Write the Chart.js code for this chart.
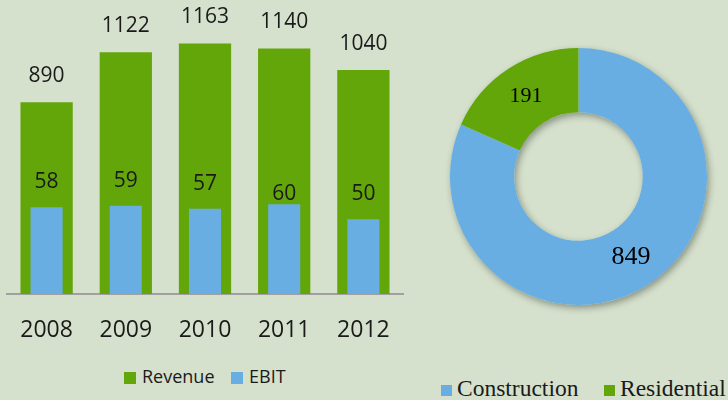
<!DOCTYPE html>
<html>
<head>
<meta charset="utf-8">
<script src="https://cdn.jsdelivr.net/npm/chart.js@4/dist/chart.umd.min.js"></script>
<style>
  body {
    margin: 0;
    width: 728px;
    height: 400px;
    overflow: hidden;
    position: relative;
    background: #d5e1cc;
    color: #1a1a1a;
  }
  #bar-wrap { position: absolute; left: 0; top: 0; width: 410px; height: 350px; }
  #pie-wrap { position: absolute; left: 440px; top: 38px; width: 277px; height: 277px; }
  .box { position: absolute; width: 12px; height: 12px; }
  .txt { position: absolute; white-space: nowrap; }
  .sans { font-family: "Open Sans", sans-serif; font-size: 18px; line-height: 18px; }
  .serif { font-family: "Liberation Serif", serif; font-size: 23.5px; line-height: 23.5px; }
</style>
</head>
<body>
<div id="bar-wrap"><canvas id="bar-chart"></canvas></div>
<div id="pie-wrap"><canvas id="pie-chart"></canvas></div>

<!-- legends -->
<div class="box" style="left:124px;top:372px;background:#62a60a"></div>
<div class="txt sans" style="left:142px;top:367px">Revenue</div>
<div class="box" style="left:231px;top:372px;background:#68aee3"></div>
<div class="txt sans" style="left:249px;top:367px">EBIT</div>

<div class="box" style="left:441px;top:385px;width:11px;height:11px;background:#68aee3"></div>
<div class="txt serif" style="left:457px;top:377px">Construction</div>
<div class="box" style="left:604px;top:385px;width:11px;height:11px;background:#62a60a"></div>
<div class="txt serif" style="left:620px;top:377px">Residential</div>

<script>
const GREEN = "#62a60a";
const BLUE = "#68aee3";
const INK = "#1a1a1a";

// bar chart data
const years = ["2008", "2009", "2010", "2011", "2012"];
const revenue = [890, 1122, 1163, 1140, 1040];
const ebit = [58, 59, 57, 60, 50];

// doughnut data
const segments = ["Construction", "Residential"];
const segmentValues = [849, 191];

// how far each label floats above its bar (the 60 sits lower in the original)
const revenueLift = [26, 26, 26, 26, 26];
const ebitLift = [25, 25, 25, 10, 25];

const barLabels = {
  id: "barLabels",
  afterDatasetsDraw(chart) {
    const ctx = chart.ctx;
    ctx.save();
    ctx.fillStyle = INK;
    ctx.textAlign = "center";
    ctx.textBaseline = "middle";
    ctx.font = "21px 'Open Sans'";
    chart.getDatasetMeta(0).data.forEach((bar, i) => {
      ctx.fillText(revenue[i], bar.x, bar.y - revenueLift[i]);
    });
    chart.getDatasetMeta(1).data.forEach((bar, i) => {
      ctx.fillText(ebit[i], bar.x, bar.y - ebitLift[i]);
    });
    ctx.restore();
  },
};

new Chart(document.getElementById("bar-chart"), {
  type: "bar",
  data: {
    labels: years,
    datasets: [
      {
        label: "Revenue",
        data: revenue,
        backgroundColor: GREEN,
        yAxisID: "y",
        grouped: false,
        order: 1,
        categoryPercentage: 1,
        barPercentage: 0.66,
      },
      {
        label: "EBIT",
        data: ebit,
        backgroundColor: BLUE,
        yAxisID: "y1",
        grouped: false,
        order: 0,
        categoryPercentage: 1,
        barPercentage: 0.405,
      },
    ],
  },
  options: {
    responsive: true,
    maintainAspectRatio: false,
    animation: false,
    layout: { padding: { top: 14, left: 7, right: 7, bottom: 0 } },
    plugins: { legend: { display: false }, tooltip: { enabled: false } },
    scales: {
      x: {
        grid: { display: false, drawTicks: false },
        border: { color: "#a0a0a0", width: 2 },
        ticks: { color: INK, font: { family: "Open Sans", size: 23 }, padding: 23 },
        afterFit: (scale) => {
          scale.height = 56;
          scale.paddingLeft = 0;
          scale.paddingRight = 0;
        },
      },
      y: { display: false, min: 0, max: 1300 },
      y1: { display: false, min: 0, max: 187 },
    },
  },
  plugins: [barLabels],
});

// soft shadow under the ring, then the value labels on top
const ringShadow = {
  id: "ringShadow",
  beforeDatasetsDraw(chart) {
    const arc = chart.getDatasetMeta(0).data[0];
    if (!arc) return;
    const ctx = chart.ctx;
    ctx.save();
    ctx.shadowColor = "rgba(0,0,0,0.35)";
    ctx.shadowBlur = 7;
    ctx.shadowOffsetX = 2;
    ctx.shadowOffsetY = 3;
    ctx.fillStyle = "#d5e1cc";
    ctx.beginPath();
    ctx.arc(arc.x, arc.y, arc.outerRadius, 0, Math.PI * 2);
    ctx.moveTo(arc.x + arc.innerRadius, arc.y);
    ctx.arc(arc.x, arc.y, arc.innerRadius, 0, Math.PI * 2, true);
    ctx.fill();
    ctx.restore();
  },
  afterDatasetsDraw(chart) {
    const ctx = chart.ctx;
    const sizes = [26, 22];
    ctx.save();
    ctx.fillStyle = "#000";
    ctx.textAlign = "center";
    ctx.textBaseline = "middle";
    chart.getDatasetMeta(0).data.forEach((arc, i) => {
      const p = arc.tooltipPosition();
      ctx.font = sizes[i] + "px 'Liberation Serif'";
      ctx.fillText(segmentValues[i], p.x, p.y);
    });
    ctx.restore();
  },
};

new Chart(document.getElementById("pie-chart"), {
  type: "doughnut",
  data: {
    labels: segments,
    datasets: [
      {
        data: segmentValues,
        backgroundColor: [BLUE, GREEN],
        borderWidth: 0,
      },
    ],
  },
  options: {
    responsive: true,
    maintainAspectRatio: false,
    animation: false,
    cutout: "50%",
    layout: { padding: 10 },
    plugins: { legend: { display: false }, tooltip: { enabled: false } },
  },
  plugins: [ringShadow],
});
</script>
</body>
</html>
